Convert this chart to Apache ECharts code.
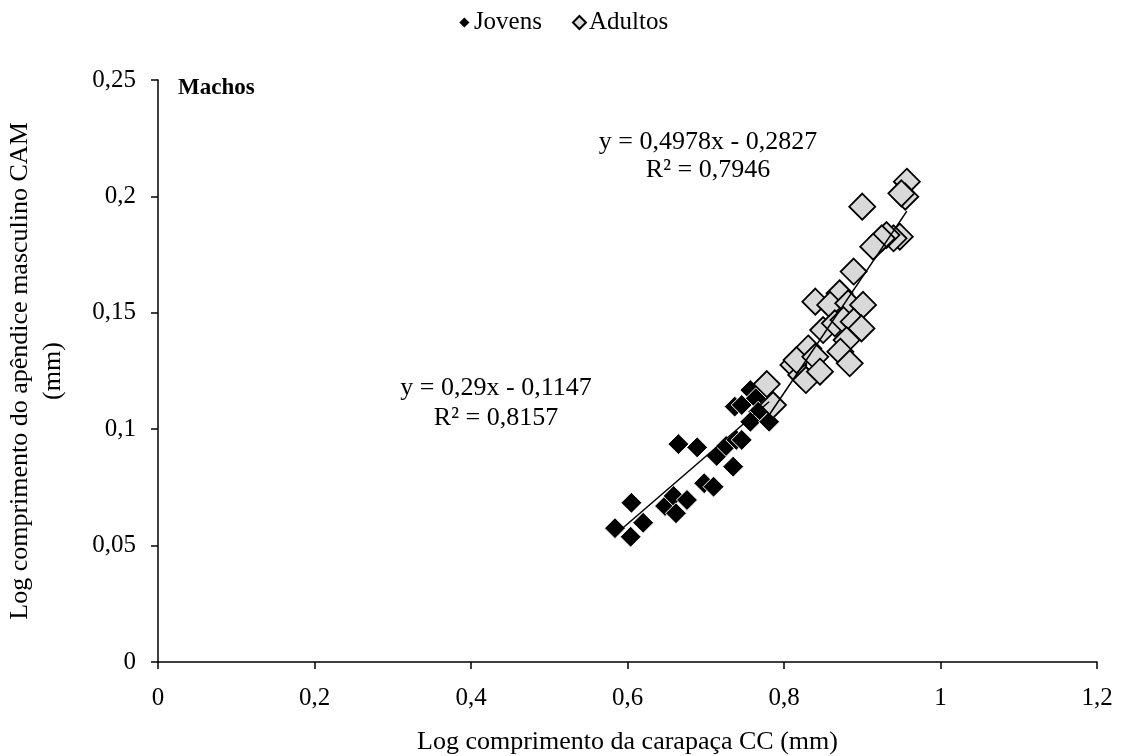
<!DOCTYPE html>
<html><head><meta charset="utf-8">
<script src="https://cdn.jsdelivr.net/npm/echarts@6/dist/echarts.min.js"></script>
<style>html,body{margin:0;padding:0;background:#fff}#c{width:1125px;height:756px}</style>
</head><body><div id="c"></div>
<script>
const xTicks = [0, 0.2, 0.4, 0.6, 0.8, 1, 1.2];
const yTicks = [0, 0.05, 0.1, 0.15, 0.2, 0.25];
const jovensX = [0.584,0.604,0.605,0.620,0.648,0.659,0.662,0.676,0.665,0.689,0.698,0.710,0.714,0.726,0.735,0.739,0.746,0.737,0.746,0.757,0.764,0.767,0.757,0.781];
const jovensY = [0.0575,0.0538,0.0684,0.0598,0.0670,0.0713,0.0639,0.0696,0.0936,0.0922,0.0768,0.0753,0.0885,0.0928,0.0839,0.0954,0.0954,0.1097,0.1104,0.1168,0.1133,0.1075,0.1032,0.1032];
const adultosX = [0.778,0.786,0.812,0.822,0.828,0.840,0.871,0.859,0.882,0.901,0.850,0.865,0.876,0.889,0.899,0.880,0.872,0.884,0.831,0.816,0.840,0.846,0.900,0.957,0.955,0.950,0.948,0.940,0.931,0.925,0.914,0.889];
const adultosY = [0.1194,0.1104,0.1276,0.1233,0.1211,0.1548,0.1584,0.1534,0.1541,0.1534,0.1426,0.1455,0.1469,0.1462,0.1433,0.1383,0.1333,0.1283,0.1347,0.1297,0.1311,0.1247,0.1956,0.2063,0.1999,0.2013,0.1827,0.1820,0.1834,0.1820,0.1784,0.1677];
const jovensFit = {a: 0.29, b: -0.1147, label1: 'y = 0,29x - 0,1147', label2: 'R² = 0,8157'};
const adultosFit = {a: 0.4978, b: -0.2827, label1: 'y = 0,4978x - 0,2827', label2: 'R² = 0,7946'};

const FONT = 'Liberation Serif';
const fmt = v => String(+v.toFixed(2)).replace('.', ',');
const zip = (xs, ys) => xs.map((x, i) => [x, ys[i]]);
const fitLine = (xs, f) => {
  const lo = Math.min(...xs), hi = Math.max(...xs);
  return [[lo, f.a * lo + f.b], [hi, f.a * hi + f.b]];
};

const chart = echarts.init(document.getElementById('c'), null, {renderer: 'canvas'});
const txt = (text, x, y, extra) => ({type: 'text', x: x, y: y, z: 100, style: Object.assign({text, font: '26px "' + FONT + '"', fill: '#000', textAlign: 'center', textVerticalAlign: 'middle'}, extra || {})});
chart.setOption({
  backgroundColor: '#fff',
  animation: false,
  textStyle: {fontFamily: FONT, color: '#000'},
  legend: {
    top: 5, left: 'center', itemGap: 30, itemWidth: 13, itemHeight: 13,
    textStyle: {fontFamily: FONT, fontSize: 25, color: '#000', padding: [0, 0, 0, -2]},
    data: [{name: 'Jovens', icon: 'diamond'}, {name: 'Adultos', icon: 'diamond'}]
  },
  grid: {left: 158, right: 28, top: 80, bottom: 94, outerBoundsMode: 'none', containLabel: false},
  xAxis: {
    type: 'value', min: 0, max: 1.2, interval: 0.2,
    name: 'Log comprimento da carapaça CC (mm)', nameLocation: 'middle', nameGap: 67,
    nameTextStyle: {fontFamily: FONT, fontSize: 26, color: '#000'},
    axisLine: {show: true, lineStyle: {color: '#000', width: 1.5}},
    axisTick: {show: true, length: 7, lineStyle: {color: '#000', width: 1.5}},
    axisLabel: {fontFamily: FONT, fontSize: 25, color: '#000', margin: 24, formatter: fmt},
    splitLine: {show: false}
  },
  yAxis: {
    type: 'value', min: 0, max: 0.25, interval: 0.05,
    name: 'Log comprimento do apêndice masculino CAM\n(mm)', nameLocation: 'middle', nameGap: 88,
    nameTextStyle: {fontFamily: FONT, fontSize: 26, color: '#000', lineHeight: 33, align: 'center'},
    axisLine: {show: true, lineStyle: {color: '#000', width: 1.5}},
    axisTick: {show: true, length: 7, lineStyle: {color: '#000', width: 1.5}},
    axisLabel: {fontFamily: FONT, fontSize: 25, color: '#000', margin: 22, formatter: fmt},
    splitLine: {show: false}
  },
  series: [
    {name: 'Jovens', type: 'scatter', symbol: 'diamond', symbolSize: [21, 21], z: 2,
     itemStyle: {color: '#000', borderColor: '#fff', borderWidth: 1, opacity: 1},
     data: zip(jovensX, jovensY)},
    {name: 'Adultos', type: 'scatter', symbol: 'diamond', symbolSize: [26, 26], z: 3,
     itemStyle: {color: '#d9d9d9', borderColor: '#000', borderWidth: 1.8, opacity: 1},
     data: zip(adultosX, adultosY)},
    {name: 'fitJ', type: 'line', showSymbol: false, symbol: 'none', z: 5, silent: true,
     lineStyle: {color: '#000', width: 1.5}, data: fitLine(jovensX, jovensFit)},
    {name: 'fitA', type: 'line', showSymbol: false, symbol: 'none', z: 5, silent: true,
     lineStyle: {color: '#000', width: 1.5}, data: fitLine(adultosX, adultosFit)}
  ],
  graphic: [
    txt('Machos', 178, 88, {textAlign: 'left', font: 'bold 23px "' + FONT + '"'}),
    txt(adultosFit.label1, 708, 142),
    txt(adultosFit.label2, 708, 170),
    txt(jovensFit.label1, 496, 388),
    txt(jovensFit.label2, 496, 418)
  ]
});
</script></body></html>
